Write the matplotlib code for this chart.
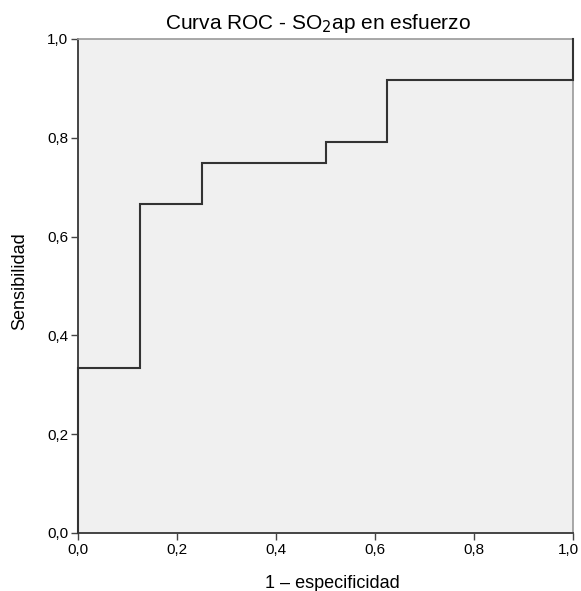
import matplotlib
matplotlib.use('Agg')
import matplotlib.pyplot as plt
import matplotlib.transforms as mtransforms

# ROC curve points (1 - specificity, sensitivity)
fpr = [0.0, 0.0, 0.125, 0.125, 0.25, 0.25, 0.5, 0.5, 0.625, 0.625, 1.0, 1.0]
tpr = [0.0, 0.333, 0.333, 0.667, 0.667, 0.75, 0.75, 0.792, 0.792, 0.917, 0.917, 1.0]

ticks = [0.0, 0.2, 0.4, 0.6, 0.8, 1.0]
tick_labels = ['0,0', '0,2', '0,4', '0,6', '0,8', '1,0']

plt.rcParams['font.family'] = ['Liberation Sans', 'DejaVu Sans']

W, H = 581, 591
fig = plt.figure(figsize=(W / 100, H / 100), dpi=100)
# axes box in pixels: left 78, right 573, top 39, bottom 533
ax = fig.add_axes([78 / W, 1 - 533 / H, (573 - 78) / W, (533 - 39) / H])
ax.set_facecolor('#f0f0f0')

ax.plot(fpr, tpr, color='#333333', lw=1.5, solid_joinstyle='miter', clip_on=False, zorder=5)

ax.set_xlim(0, 1)
ax.set_ylim(0, 1)
ax.set_xticks(ticks)
ax.set_xticklabels(tick_labels)
ax.set_yticks(ticks)
ax.set_yticklabels(tick_labels)
ax.tick_params(direction='out', length=5, width=1, color='#444444',
               labelsize=11, pad=2)

# last x label is pushed left so it stays inside the figure
offset = mtransforms.ScaledTranslation(-5 / 100, 0, fig.dpi_scale_trans)
lab = ax.get_xticklabels()[-1]
lab.set_transform(lab.get_transform() + offset)

for side in ['left', 'bottom']:
    ax.spines[side].set_color('#444444')
    ax.spines[side].set_linewidth(1.4)
for side in ['top', 'right']:
    ax.spines[side].set_color('#999999')
    ax.spines[side].set_linewidth(1.2)

fig.text(317.5 / W, 1 - 29 / H, 'Curva ROC - SO$_2$ap en esfuerzo',
         ha='center', va='baseline', fontsize=15)
fig.text(332 / W, 1 - 588 / H, '1 – especificidad',
         ha='center', va='baseline', fontsize=13)
fig.text(20 / W, 1 - 281 / H, 'Sensibilidad', rotation=90,
         ha='center', va='center', fontsize=13)

plt.savefig('out.png', dpi=100)
